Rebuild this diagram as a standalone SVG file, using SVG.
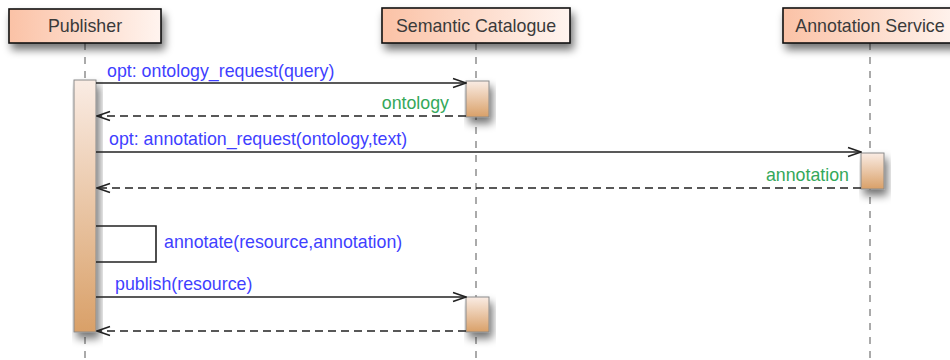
<svg xmlns="http://www.w3.org/2000/svg" width="950" height="360" viewBox="0 0 950 360">
<style>
.hdr{fill:url(#hg);stroke:#111;stroke-width:1.6}
.htxt{font-family:"Liberation Sans",Arial,sans-serif;font-size:17.8px;fill:#3a3a3a;text-anchor:middle}
.life{stroke:#aaa;stroke-width:2;stroke-dasharray:7,7;fill:none}
.act{fill:url(#ag);stroke:#8a8a8a;stroke-width:1}
.msg{stroke:#222;stroke-width:1.6;fill:none}
.ret{stroke:#222;stroke-width:1.6;fill:none;stroke-dasharray:8,5}
.lbl{font-family:"Liberation Sans",Arial,sans-serif;font-size:17.8px;fill:#3f3fff}
.rlbl{font-family:"Liberation Sans",Arial,sans-serif;font-size:17.8px;fill:#34a85a;text-anchor:end}
</style>
<defs>
<linearGradient id="hg" x1="0" y1="0" x2="1" y2="0">
<stop offset="0" stop-color="#fbc2a6"/>
<stop offset="1" stop-color="#fff4ef"/>
</linearGradient>
<linearGradient id="ag" x1="0" y1="0" x2="0" y2="1">
<stop offset="0" stop-color="#faece4"/>
<stop offset="1" stop-color="#d9a068"/>
</linearGradient>
<filter id="sh" x="-20%" y="-30%" width="150%" height="190%">
<feGaussianBlur in="SourceAlpha" stdDeviation="4"/>
<feOffset dx="3" dy="6" result="b"/>
<feComponentTransfer><feFuncA type="linear" slope="0.55"/></feComponentTransfer>
<feMerge><feMergeNode/><feMergeNode in="SourceGraphic"/></feMerge>
</filter>
<marker id="open" markerWidth="16" markerHeight="12" refX="15" refY="6" orient="auto" markerUnits="userSpaceOnUse">
<path d="M2,1.5 L15,6 L2,10.5" fill="none" stroke="#222" stroke-width="1.6"/>
</marker>
</defs>

<g id="lifelines">
<line class="life" x1="85" y1="43" x2="85" y2="360"/>
<line class="life" x1="476" y1="43" x2="476" y2="360"/>
<line class="life" x1="870" y1="43" x2="870" y2="360"/>
</g>

<g id="publisher">
<rect class="hdr" x="9" y="9" width="152" height="34" filter="url(#sh)"/>
<text class="htxt" x="85" y="32">Publisher</text>
<rect class="act" x="74" y="80" width="22" height="252" filter="url(#sh)"/>
</g>

<g id="semantic-catalogue">
<rect class="hdr" x="382" y="8" width="188" height="35" filter="url(#sh)"/>
<text class="htxt" x="476" y="32">Semantic Catalogue</text>
<rect class="act" x="466" y="81" width="23" height="36" filter="url(#sh)"/>
<rect class="act" x="466" y="297" width="23" height="35" filter="url(#sh)"/>
</g>

<g id="annotation-service">
<rect class="hdr" x="783" y="8" width="176" height="35" filter="url(#sh)"/>
<text class="htxt" x="870" y="32">Annotation Service</text>
<rect class="act" x="861" y="153" width="23" height="36" filter="url(#sh)"/>
</g>

<g id="connectors">
<line class="msg" x1="96" y1="83" x2="466" y2="83" marker-end="url(#open)"/>
<line class="ret" x1="466" y1="116" x2="97" y2="116" marker-end="url(#open)"/>
<line class="msg" x1="96" y1="152" x2="861" y2="152" marker-end="url(#open)"/>
<line class="ret" x1="861" y1="188" x2="97" y2="188" marker-end="url(#open)"/>
<polyline class="msg" points="96,226 156,226 156,262 96,262"/>
<line class="msg" x1="96" y1="297" x2="466" y2="297" marker-end="url(#open)"/>
<line class="ret" x1="466" y1="331" x2="97" y2="331" marker-end="url(#open)"/>
</g>

<g id="labels">
<text class="lbl" x="107" y="77">opt: ontology_request(query)</text>
<text class="rlbl" x="449" y="109">ontology</text>
<text class="lbl" x="109" y="145">opt: annotation_request(ontology,text)</text>
<text class="rlbl" x="849" y="181">annotation</text>
<text class="lbl" x="164" y="248">annotate(resource,annotation)</text>
<text class="lbl" x="115" y="290">publish(resource)</text>
</g>
</svg>
